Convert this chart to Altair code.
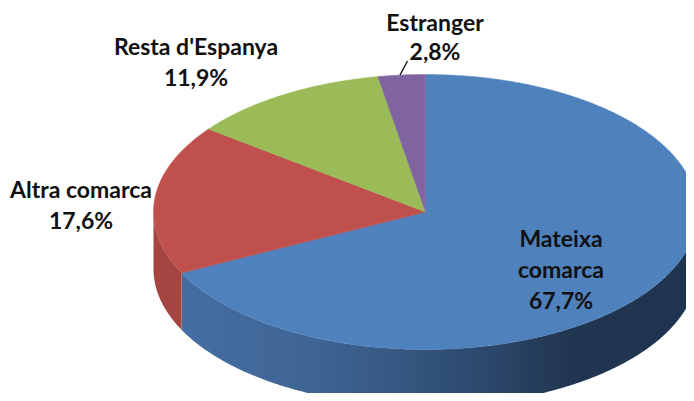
import math
import altair as alt
import pandas as pd

# Values
categories = ["Mateixa comarca", "Altra comarca", "Resta d'Espanya", "Estranger"]
shares = [67.7, 17.6, 11.9, 2.8]
label_lines = [["Mateixa", "comarca", "67,7%"], ["Altra comarca", "17,6%"],
               ["Resta d'Espanya", "11,9%"], ["Estranger", "2,8%"]]

# Layout / style
colors = ["#4F81BD", "#C0504D", "#9BBB59", "#8064A2"]
CX, CY, RX, RY, DEPTH = 425.5, 212.0, 272.0, 137.5, 57.0
L_X = [561, 81, 196, 435]
L_Y = [240, 191, 48, 24]
LINE_H = [31, 31, 31, 29]
FONT = "Lato"

X = alt.X("x:Q", scale=alt.Scale(domain=[8, 686]), axis=None)
Y = alt.Y("y:Q", scale=alt.Scale(domain=[8, 393], reverse=True), axis=None)


def pt(t):
    a = math.radians(t)
    return CX + RX * math.sin(a), CY - RY * math.cos(a)


bounds = [0.0]
for s in shares:
    bounds.append(bounds[-1] + s * 3.6)


def sweep(a, b):
    n = max(2, int(abs(b - a) * 2))
    return [a + (b - a) * i / n for i in range(n + 1)]


layers = []


def wall(a, b, fill):
    rows = []
    for t in sweep(a, b):
        x, y = pt(t)
        rows.append({"x": x, "y": y, "y2": y + DEPTH})
    return alt.Chart(pd.DataFrame(rows)).mark_area(clip=True, fill=fill, stroke=None).encode(
        x=X, y=Y, y2="y2:Q")


blue_grad = alt.Gradient(
    gradient="linear", x1=0, y1=0, x2=1, y2=0,
    stops=[alt.GradientStop(offset=0, color="#446EA2"),
           alt.GradientStop(offset=0.25, color="#3F6594"),
           alt.GradientStop(offset=0.55, color="#2E4C72"),
           alt.GradientStop(offset=0.75, color="#213650"),
           alt.GradientStop(offset=1, color="#1F344E")])

layers.append(wall(90, bounds[1], blue_grad))
layers.append(wall(bounds[1], 270, "#A44542"))

for i, c in enumerate(colors):
    rows = [{"x": CX, "y": CY, "i": 0}]
    for j, t in enumerate(sweep(bounds[i], bounds[i + 1])):
        x, y = pt(t)
        rows.append({"x": x, "y": y, "i": j + 1})
    rows.append({"x": CX, "y": CY, "i": len(rows)})
    layers.append(
        alt.Chart(pd.DataFrame(rows))
        .mark_line(clip=True, fill=c, stroke=c, strokeWidth=0.5)
        .encode(x=X, y=Y, order="i:Q")
    )

leader = pd.DataFrame({"x": [400.0, 407.5], "y": [75.0, 61.0]})
layers.append(alt.Chart(leader).mark_line(color="#111111", strokeWidth=1.4).encode(x=X, y=Y))

rows = []
for k, lines in enumerate(label_lines):
    for n, s in enumerate(lines):
        rows.append({"x": L_X[k], "y": L_Y[k] + n * LINE_H[k], "t": s})
layers.append(
    alt.Chart(pd.DataFrame(rows))
    .mark_text(font=FONT, fontWeight="bold", fontSize=23, color="#111111",
               align="center", baseline="middle")
    .encode(x=X, y=Y, text="t:N")
)

chart = (
    alt.layer(*layers)
    .properties(width=678, height=385, padding=0, autosize=alt.AutoSizeParams(type="none"))
    .configure_view(stroke=None)
)
chart.save("out.html", embed_options={"renderer": "svg", "actions": False})
